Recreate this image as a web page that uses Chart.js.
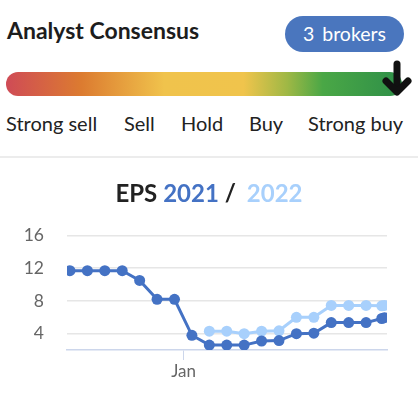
<!DOCTYPE html>
<html>
<head>
<meta charset="utf-8">
<script src="https://cdn.jsdelivr.net/npm/chart.js@4"></script>
<style>
  body { margin:0; width:418px; height:395px; background:#fff; font-family: Lato, "Open Sans", sans-serif; position:relative; overflow:hidden; }
  .abs { position:absolute; }
  #title { left:7px; top:16px; font-size:23px; font-weight:700; color:#1d1d1d; }
  #badge { left:285px; top:16px; width:119px; height:36px; border-radius:18px; background:#4a76be; color:#fff; font-size:19.5px; line-height:36px; text-align:center; word-spacing:3px; }
  #bar { left:6px; top:72px; width:396px; height:24px; border-radius:12px;
    background: linear-gradient(to right, #cf4b56 0%, #dc7b30 19%, #f0c34c 40%, #f0c44c 60%, #9fb845 71%, #4aa746 80%, #2e8f48 100%); }
  .lbl { top:111px; font-size:20px; color:#222; }
  #sep { left:0; top:156px; width:418px; height:2px; background:#ececec; }
  #eps { left:0; top:178px; width:418px; text-align:center; font-size:24px; font-weight:700; color:#222; z-index:2; }
  #chartBox { left:0; top:202px; }
</style>
</head>
<body>
<div class="abs" id="title">Analyst Consensus</div>
<div class="abs" id="badge">3 brokers</div>
<div class="abs" id="bar"></div>
<svg class="abs" style="left:380px;top:55px" width="34" height="45">
  <line x1="17" y1="9" x2="17" y2="36" stroke="#111" stroke-width="7" stroke-linecap="round"/>
  <polyline points="6,26 17,37 28,26" fill="none" stroke="#111" stroke-width="7" stroke-linecap="round" stroke-linejoin="round"/>
</svg>
<div class="abs lbl" style="left:6px">Strong sell</div>
<div class="abs lbl" style="left:124px">Sell</div>
<div class="abs lbl" style="left:181px">Hold</div>
<div class="abs lbl" style="left:249px">Buy</div>
<div class="abs lbl" style="left:308px">Strong buy</div>
<div class="abs" id="sep"></div>
<div class="abs" id="chartBox"><canvas id="myChart" width="418" height="190"></canvas></div>
<div class="abs" id="eps">EPS <span style="color:#4472c4">2021</span> /<span style="color:#a8d0fc;margin-left:11px">2022</span></div>
<script>
// semanas (posicion en el eje x), la ultima casi encima de la anterior
const weeks = [0,1,2,3,4,5,6,7,8,9,10,11,12,13,14,15,16,17,17.9,18.05];
const eps2021 = [11.7,11.7,11.7,11.7,10.5,8.2,8.2,3.8,2.6,2.6,2.6,3.1,3.15,4.0,4.05,5.35,5.35,5.35,5.85,5.95];
const eps2022 = [4.3,4.3,4.0,4.3,4.35,6.0,6.0,7.45,7.45,7.45,7.4,7.45]; // empieza en la semana 8
const yTicks = [4,8,12,16];
const janPos = 6.52;

const dark = '#4472c4';
const light = '#a8d0fc';

const pts2021 = weeks.map((w, i) => ({x: w, y: eps2021[i]}));
const pts2022 = weeks.slice(8).map((w, i) => ({x: w, y: eps2022[i]}));

const ctx = document.getElementById('myChart');
new Chart(ctx, {
  type: 'line',
  data: {
    datasets: [
      { label: '2021', data: pts2021, borderColor: dark, backgroundColor: dark, pointBackgroundColor: dark,
        borderWidth: 3, pointRadius: 5.5, pointBorderWidth: 0, tension: 0 },
      { label: '2022', data: pts2022, borderColor: light, backgroundColor: light, pointBackgroundColor: light,
        borderWidth: 3, pointRadius: 5.5, pointBorderWidth: 0, tension: 0 }
    ]
  },
  options: {
    responsive: false,
    animation: false,
    layout: { padding: { top: 13, right: 31, left: 0, bottom: 0 } },
    plugins: { legend: { display: false }, tooltip: { enabled: false } },
    scales: {
      x: {
        type: 'linear', min: -0.17, max: 18.2,
        afterBuildTicks: (s) => { s.ticks = [{ value: janPos }]; },
        afterFit: (s) => { s.height = 42; },
        ticks: { callback: () => 'Jan', color: '#666', font: { family: 'Lato', size: 17 }, padding: 1, maxRotation: 0 },
        grid: { drawOnChartArea: false, drawTicks: true, tickLength: 10, color: '#ccd6eb' },
        border: { color: '#ccd6eb', width: 1.5 }
      },
      y: {
        min: 2, max: 16,
        afterBuildTicks: (s) => { s.ticks = yTicks.map(v => ({ value: v })); },
        afterFit: (s) => { s.width = 67; },
        ticks: { color: '#666', font: { family: 'Lato', size: 17.5 }, padding: 23 },
        grid: { color: '#e6e6e6', lineWidth: 1.5, drawTicks: false },
        border: { display: false }
      }
    }
  }
});
</script>
</body>
</html>
